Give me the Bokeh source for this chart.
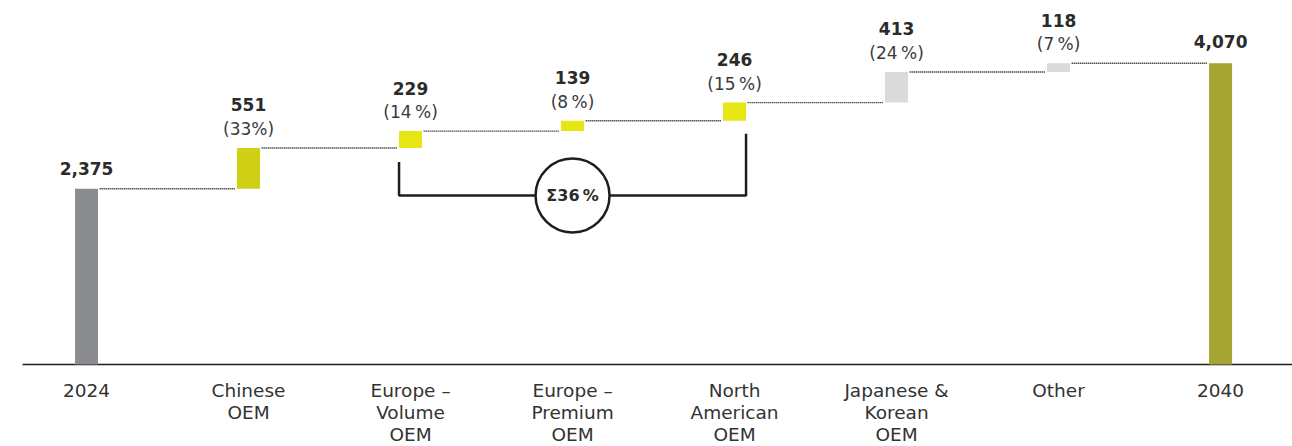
from bokeh.plotting import figure
from bokeh.models import Range1d, ColumnDataSource
from bokeh.core.properties import value
from bokeh.embed import file_html
from bokeh.resources import INLINE

# Waterfall: 2024 -> 2040 by OEM group
categories = ["2024", "Chinese\nOEM", "Europe –\nVolume\nOEM", "Europe –\nPremium\nOEM",
              "North\nAmerican\nOEM", "Japanese &\nKorean\nOEM", "Other", "2040"]
start_total = 2375
end_total = 4070
increments = [551, 229, 139, 246, 413, 118]
shares = [33, 14, 8, 15, 24, 7]
group_share = 36

FONT = "DejaVu Sans"
TXT = "#2b2b2b"
colors = ["#8b8c8f", "#d0d016", "#e6e612", "#e6e612", "#e6e612", "#d9dadb", "#d9dadb", "#a4a532"]

# bar geometry
bottoms, tops = [0], [start_total]
level = start_total
for inc in increments:
    bottoms.append(level)
    level += inc
    tops.append(level)
bottoms.append(0)
tops.append(end_total)
xs = list(range(len(categories)))
bw = 0.142

p = figure(width=1292, height=446, output_backend="svg", toolbar_location=None,
           x_range=Range1d(-0.531, 7.444), y_range=Range1d(-1108, 4919),
           x_axis_location=None, y_axis_location=None, min_border=0)
p.outline_line_color = None
p.xgrid.visible = False
p.ygrid.visible = False

ppx = (4919 + 1108) / 446.0  # data units per pixel

# baseline
p.segment(x0=[-0.395], y0=[0], x1=[7.444], y1=[0], line_color="#1e1e1e", line_width=1.5)

src = ColumnDataSource(dict(x=xs, bottom=bottoms, top=tops, color=colors))
p.vbar(x="x", width=bw, bottom="bottom", top="top", fill_color="color", line_color=None, source=src)

# dotted connectors between bars
cx0 = [x + bw / 2 + 0.01 for x in xs[:-1]]
cx1 = [x + 1 - bw / 2 - 0.01 for x in xs[:-1]]
cy = tops[:-1]
p.segment(x0=cx0, y0=cy, x1=cx1, y1=cy, line_color="#000000", line_width=1.3, line_dash="1 1")

# value labels
val_x, val_y, val_t = [], [], []
pct_x, pct_y, pct_t = [], [], []
val_x.append(0); val_y.append(tops[0] + 20 * ppx); val_t.append(f"{start_total:,}")
for i, (inc, sh) in enumerate(zip(increments, shares), start=1):
    pct_x.append(i); pct_y.append(tops[i] + 19 * ppx)
    pct_t.append(f"({sh}%)" if sh >= 30 else f"({sh}\u2009%)")
    val_x.append(i); val_y.append(tops[i] + 43 * ppx); val_t.append(f"{inc:,}")
val_x.append(7); val_y.append(tops[7] + 22 * ppx); val_t.append(f"{end_total:,}")

p.text(x=val_x, y=val_y, text=val_t, text_font=value(FONT), text_font_style="bold",
       text_font_size="17px", text_color=TXT, text_align="center", text_baseline="middle")
p.text(x=pct_x, y=pct_y, text=pct_t, text_font=value(FONT),
       text_font_size="17px", text_color="#3a3a3a", text_align="center", text_baseline="middle")

# bracket grouping the three Western OEM bars
br_y = 2284
left_x = 2 - bw / 2
right_x = 4 + bw / 2
p.line(x=[left_x, left_x, right_x, right_x],
       y=[bottoms[2] - 14 * ppx, br_y, br_y, bottoms[4] - 13 * ppx],
       line_color="#1e1e1e", line_width=2.5)
p.scatter(x=[3], y=[br_y], marker="circle", size=74, fill_color="white",
          line_color="#1e1e1e", line_width=2.5)
p.text(x=[3], y=[br_y], text=[f"Σ{group_share}\u2009%"], text_font=value(FONT), text_font_style="bold",
       text_font_size="16px", text_color=TXT, text_align="center", text_baseline="middle")

# category labels, one line at a time
lx, ly, lt = [], [], []
for i, cat in enumerate(categories):
    for k, line in enumerate(cat.split("\n")):
        lx.append(i)
        ly.append(-(26 + 22 * k) * ppx)
        lt.append(line)
p.text(x=lx, y=ly, text=lt, text_font=value(FONT), text_font_size="18.5px",
       text_color="#333333", text_align="center", text_baseline="middle")

open("out.html", "w").write(file_html(p, INLINE))
